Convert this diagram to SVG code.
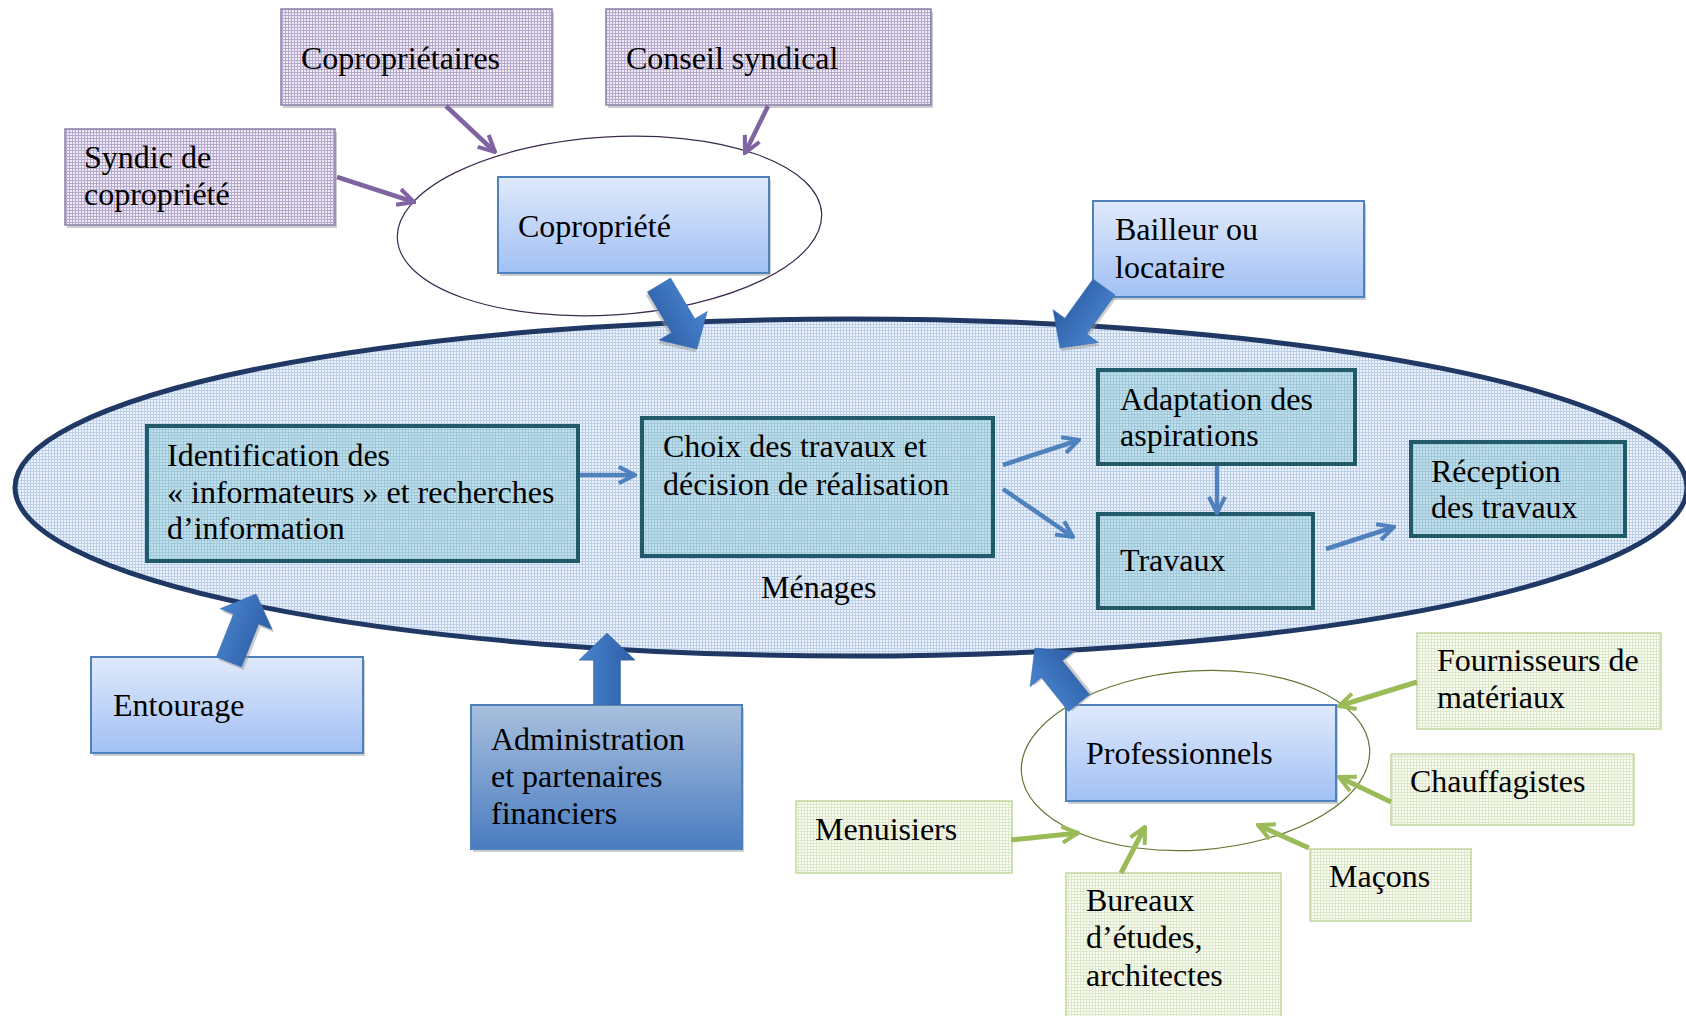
<svg xmlns="http://www.w3.org/2000/svg" width="1686" height="1016" viewBox="0 0 1686 1016">
<defs>
<pattern id="pPurple" width="3" height="3" patternUnits="userSpaceOnUse">
<rect width="3" height="3" fill="#eeebf4"/>
<path d="M0,0.5H3M0.5,0V3" stroke="#b6a9d0" stroke-width="1"/>
</pattern>
<pattern id="pGreen" width="3" height="3" patternUnits="userSpaceOnUse">
<rect width="3" height="3" fill="#fbfcf7"/>
<path d="M0,0.5H3M0.5,0V3" stroke="#dde8c8" stroke-width="1"/>
</pattern>
<pattern id="pBlue" width="3" height="3" patternUnits="userSpaceOnUse">
<rect width="3" height="3" fill="#eef3fa"/>
<path d="M0,0.5H3M0.5,0V3" stroke="#bccfea" stroke-width="1"/>
</pattern>
<pattern id="pTeal" width="3" height="3" patternUnits="userSpaceOnUse">
<rect width="3" height="3" fill="#c2e0ec"/>
<path d="M0,0.5H3M0.5,0V3" stroke="#9fc9db" stroke-width="1"/>
</pattern>
<linearGradient id="gBox" x1="0" y1="0" x2="0" y2="1">
<stop offset="0" stop-color="#e0eafc"/>
<stop offset="1" stop-color="#a1c0f4"/>
</linearGradient>
<linearGradient id="gAdmin" x1="0" y1="0" x2="0" y2="1">
<stop offset="0" stop-color="#a9c0de"/>
<stop offset="1" stop-color="#4a7cc0"/>
</linearGradient>
<linearGradient id="gArrow" x1="0" y1="0" x2="0" y2="1">
<stop offset="0" stop-color="#4a84cf"/>
<stop offset="1" stop-color="#2c5fa6"/>
</linearGradient>
<marker id="mBlue" viewBox="0 0 10 10" refX="9" refY="5" markerWidth="4.5" markerHeight="4.5" orient="auto" markerUnits="strokeWidth">
<path d="M1,1 L9,5 L1,9" fill="none" stroke="#4f81bd" stroke-width="2"/>
</marker>
<marker id="mPurple" viewBox="0 0 10 10" refX="9" refY="5" markerWidth="4.5" markerHeight="4.5" orient="auto" markerUnits="strokeWidth">
<path d="M1,1 L9,5 L1,9" fill="none" stroke="#8064a2" stroke-width="2"/>
</marker>
<marker id="mGreen" viewBox="0 0 10 10" refX="9" refY="5" markerWidth="4" markerHeight="4" orient="auto" markerUnits="strokeWidth">
<path d="M1,1 L9,5 L1,9" fill="none" stroke="#9bbb59" stroke-width="2"/>
</marker>
</defs>
<style>
text{font-family:"Liberation Serif","Times New Roman",serif;font-size:32px;fill:#000}
.shadow{fill:#a6a6a6;opacity:.55}
.purple{fill:url(#pPurple);stroke:#8c7fa8;stroke-width:1.5}
.green{fill:url(#pGreen);stroke:#c5d89f;stroke-width:1.5}
.bluebox{fill:url(#gBox);stroke:#4f81bd;stroke-width:2}
.admin{fill:url(#gAdmin);stroke:#4f81bd;stroke-width:2}
.teal{fill:url(#pTeal);stroke:#215a69;stroke-width:4}
.small{fill:none;stroke:#4f81bd;stroke-width:4.5;marker-end:url(#mBlue)}
.parr{fill:none;stroke:#8064a2;stroke-width:4.5;marker-end:url(#mPurple)}
.garr{fill:none;stroke:#9bbb59;stroke-width:5;marker-end:url(#mGreen)}
.block{fill:url(#gArrow);stroke:#3467ad;stroke-width:0.5}
.bshadow{fill:#9a9a9a;opacity:.5}
</style>
<rect width="1686" height="1016" fill="#ffffff"/>

<g id="menages">
<ellipse cx="851" cy="487.5" rx="836" ry="168.5" fill="url(#pBlue)" stroke="#1f3864" stroke-width="5"/>
<text x="761" y="598">Ménages</text>
</g>

<g id="copropriete-groupe">
<ellipse cx="609.5" cy="226" rx="212.5" ry="89" fill="none" stroke="#3d2b4f" stroke-width="1.2" transform="rotate(-3.5 609.5 226)"/>
</g>
<g id="professionnels-groupe">
<ellipse cx="1195.5" cy="760.5" rx="174.5" ry="89.5" fill="none" stroke="#5f7530" stroke-width="1.2" transform="rotate(-4 1195.5 760.5)"/>
</g>

<g id="coproprietaires">
<rect class="shadow" x="283" y="12" width="271" height="96"/>
<rect class="purple" x="281" y="9" width="271" height="96"/>
<text x="301" y="69">Copropriétaires</text>
</g>
<g id="conseil-syndical">
<rect class="shadow" x="608" y="12" width="325" height="96"/>
<rect class="purple" x="606" y="9" width="325" height="96"/>
<text x="626" y="69">Conseil syndical</text>
</g>
<g id="syndic">
<rect class="shadow" x="67" y="132" width="270" height="96"/>
<rect class="purple" x="65" y="129" width="270" height="96"/>
<text x="84" y="168">Syndic de</text>
<text x="84" y="205">copropriété</text>
</g>
<g id="copropriete">
<rect class="shadow" x="500" y="180" width="271" height="96"/>
<rect class="bluebox" x="498" y="177" width="271" height="96"/>
<text x="518" y="237">Copropriété</text>
</g>
<g id="bailleur">
<rect class="shadow" x="1095" y="204" width="271" height="96"/>
<rect class="bluebox" x="1093" y="201" width="271" height="96"/>
<text x="1115" y="240">Bailleur ou</text>
<text x="1115" y="278">locataire</text>
</g>

<g id="identification">
<rect class="teal" x="147" y="426" width="431" height="135"/>
<text x="167" y="466">Identification des</text>
<text x="167" y="503">« informateurs » et recherches</text>
<text x="167" y="539">d’information</text>
</g>
<g id="choix">
<rect class="teal" x="642" y="418" width="351" height="138"/>
<text x="663" y="457">Choix des travaux et</text>
<text x="663" y="495">décision de réalisation</text>
</g>
<g id="adaptation">
<rect class="teal" x="1098" y="370" width="257" height="94"/>
<text x="1120" y="410">Adaptation des</text>
<text x="1120" y="446">aspirations</text>
</g>
<g id="travaux">
<rect class="teal" x="1098" y="514" width="215" height="94"/>
<text x="1120" y="571">Travaux</text>
</g>
<g id="reception">
<rect class="teal" x="1411" y="442" width="214" height="94"/>
<text x="1431" y="482">Réception</text>
<text x="1431" y="518">des travaux</text>
</g>

<g id="entourage">
<rect class="shadow" x="93" y="660" width="272" height="96"/>
<rect class="bluebox" x="91" y="657" width="272" height="96"/>
<text x="113" y="716">Entourage</text>
</g>
<g id="administration">
<rect class="shadow" x="473" y="708" width="271" height="144"/>
<rect class="admin" x="471" y="705" width="271" height="144"/>
<text x="491" y="750">Administration</text>
<text x="491" y="787">et partenaires</text>
<text x="491" y="824">financiers</text>
</g>
<g id="professionnels">
<rect class="shadow" x="1068" y="708" width="270" height="96"/>
<rect class="bluebox" x="1066" y="705" width="270" height="96"/>
<text x="1086" y="764">Professionnels</text>
</g>
<g id="fournisseurs">
<rect class="green" x="1417" y="633" width="244" height="96"/>
<text x="1437" y="671">Fournisseurs de</text>
<text x="1437" y="708">matériaux</text>
</g>
<g id="chauffagistes">
<rect class="green" x="1391" y="754" width="243" height="71"/>
<text x="1410" y="792">Chauffagistes</text>
</g>
<g id="menuisiers">
<rect class="green" x="796" y="801" width="216" height="72"/>
<text x="815" y="840">Menuisiers</text>
</g>
<g id="bureaux">
<rect class="green" x="1066" y="873" width="215" height="160"/>
<text x="1086" y="911">Bureaux</text>
<text x="1086" y="948">d’études,</text>
<text x="1086" y="986">architectes</text>
</g>
<g id="macons">
<rect class="green" x="1310" y="849" width="161" height="72"/>
<text x="1329" y="887">Maçons</text>
</g>

<g id="connectors">
<line class="parr" x1="446" y1="106" x2="495" y2="152"/>
<line class="parr" x1="768" y1="106" x2="745" y2="153"/>
<line class="parr" x1="337" y1="177" x2="414" y2="202"/>

<line class="small" x1="580" y1="475" x2="635" y2="475"/>
<line class="small" x1="1003" y1="465" x2="1079" y2="440"/>
<line class="small" x1="1003" y1="489" x2="1073" y2="537"/>
<line class="small" x1="1217" y1="466" x2="1217" y2="513"/>
<line class="small" x1="1326" y1="549" x2="1394" y2="527"/>

<line class="garr" x1="1417" y1="682" x2="1339" y2="706"/>
<line class="garr" x1="1391" y1="802" x2="1339" y2="777"/>
<line class="garr" x1="1309" y1="848" x2="1258" y2="825"/>
<line class="garr" x1="1121" y1="873" x2="1145" y2="827"/>
<line class="garr" x1="1011" y1="840" x2="1078" y2="833"/>

<g transform="translate(659 285) rotate(59.3)">
<path class="bshadow" transform="translate(2 3)" d="M0,-13.5 L47.4,-13.5 L47.4,-28 L74.4,0 L47.4,28 L47.4,13.5 L0,13.5 Z"/>
<path class="block" d="M0,-13.5 L47.4,-13.5 L47.4,-28 L74.4,0 L47.4,28 L47.4,13.5 L0,13.5 Z"/>
</g>
<g transform="translate(1104 287) rotate(125.8)">
<path class="bshadow" transform="translate(2 -3)" d="M0,-13.5 L48.2,-13.5 L48.2,-28 L75.2,0 L48.2,28 L48.2,13.5 L0,13.5 Z"/>
<path class="block" d="M0,-13.5 L48.2,-13.5 L48.2,-28 L75.2,0 L48.2,28 L48.2,13.5 L0,13.5 Z"/>
</g>
<g transform="translate(1079 703) rotate(-128.7)">
<path class="bshadow" transform="translate(-2 3)" d="M0,-13.5 L43.4,-13.5 L43.4,-28 L70.4,0 L43.4,28 L43.4,13.5 L0,13.5 Z"/>
<path class="block" d="M0,-13.5 L43.4,-13.5 L43.4,-28 L70.4,0 L43.4,28 L43.4,13.5 L0,13.5 Z"/>
</g>
<g transform="translate(229 662) rotate(-68.3)">
<path class="bshadow" transform="translate(-2 3)" d="M0,-13.5 L46.2,-13.5 L46.2,-28 L73.2,0 L46.2,28 L46.2,13.5 L0,13.5 Z"/>
<path class="block" d="M0,-13.5 L46.2,-13.5 L46.2,-28 L73.2,0 L46.2,28 L46.2,13.5 L0,13.5 Z"/>
</g>
<g transform="translate(607 705) rotate(-90)">
<path class="bshadow" transform="translate(-1 0)" d="M0,-13.5 L45,-13.5 L45,-28 L72,0 L45,28 L45,13.5 L0,13.5 Z"/>
<path class="block" d="M0,-13.5 L45,-13.5 L45,-28 L72,0 L45,28 L45,13.5 L0,13.5 Z"/>
</g>
</g>
</svg>
